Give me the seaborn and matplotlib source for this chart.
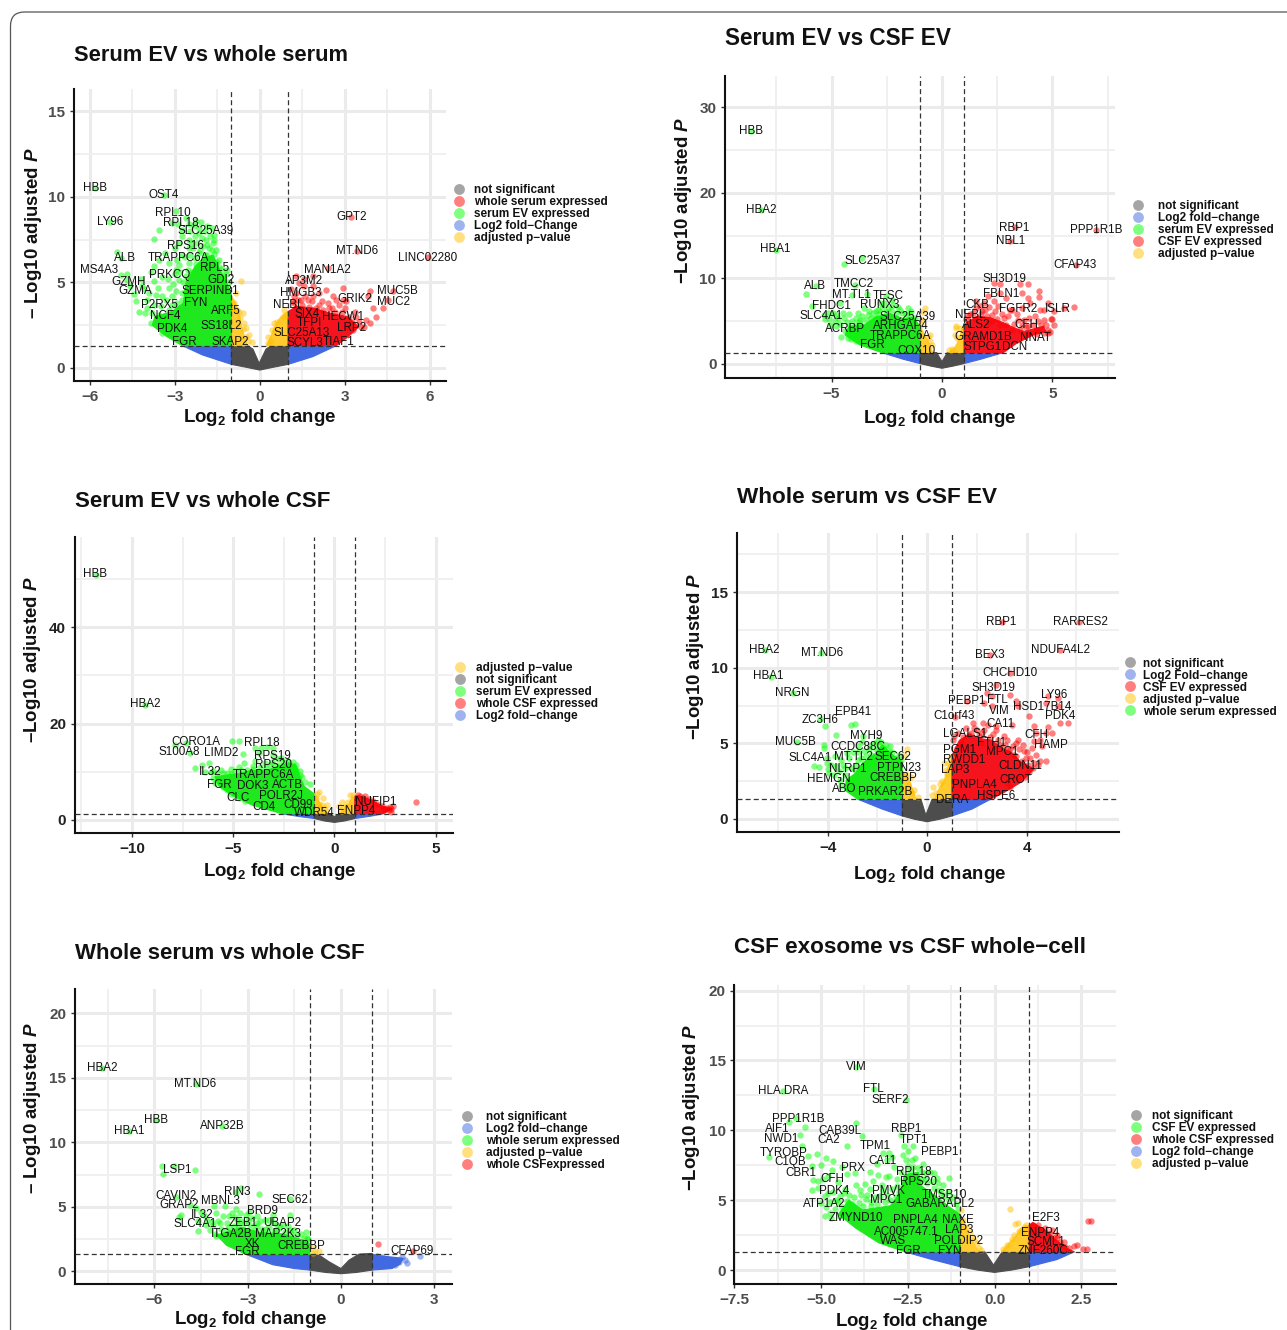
import matplotlib
matplotlib.use("Agg")
import matplotlib.pyplot as plt
import seaborn as sns
from matplotlib.lines import Line2D
from matplotlib.patches import FancyBboxPatch
from matplotlib.transforms import IdentityTransform

sns.set_theme(style="white")
plt.rcParams["font.family"] = ["Liberation Sans", "DejaVu Sans"]
plt.rcParams["mathtext.fontset"] = "custom"
plt.rcParams["mathtext.rm"] = "Liberation Sans:bold"
plt.rcParams["mathtext.bf"] = "Liberation Sans:bold"
plt.rcParams["mathtext.it"] = "Liberation Sans:italic:bold"
plt.rcParams["mathtext.bfit"] = "Liberation Sans:italic:bold"

W, H = 1287, 1330
THRESH = 1.3

# The densest parts of each cloud are read as outlines (*_edge, *_l, *_r, *_grey);
# the thinner parts are individually read points (*_pts, *_band).

# ---------- Panel A: Serum EV vs whole serum ----------
A_green_edge = [(-2.73,1.3),(-3.3,1.85),(-3.8,2.5),(-3.7,3.0),(-3.1,3.3),(-2.7,3.8),(-2.6,5.0),(-2.3,5.9),(-2.0,6.4),(-1.65,6.6),(-1.4,5.7),(-1.15,4.9),(-1,4.3),(-1,1.3)]
A_red_edge = [(1,1.3),(2.7,1.3),(3.1,1.8),(3.5,2.4),(3.1,3.0),(2.5,3.2),(1.9,3.5),(1.3,3.6),(1,3.3)]
A_yellow_l = [(-1,1.3),(-0.45,1.3),(-0.55,1.9),(-0.65,2.5),(-0.72,3.2),(-0.85,3.8),(-1,4.2)]
A_yellow_r = [(1,1.3),(0.25,1.3),(0.4,1.9),(0.52,2.4),(0.7,2.9),(1,3.3)]
A_blue_l = [(-2.73,1.3),(-2.02,0.76),(-1,0.21),(-1,1.3)]
A_blue_r = [(1,1.3),(1,0.21),(1.87,0.66),(2.7,1.3)]
A_grey = [(-1,1.3),(-0.42,1.3),(-0.24,1.1),(-0.02,0.27),(0.22,1.1),(0.4,1.3),(1,1.3),(1,0.21),(0.5,0.05),(0,-0.12),(-0.5,0.05),(-1,0.21)]
A_green_pts = [(-5.82,10.5),(-5.29,8.55),(-3.38,10.13),(-3.56,8.05),(-3.73,7.54),(-2.08,8.54),(-1.85,8.32),(-1.67,8.18),(-1.63,7.79),(-1.61,7.5),(-2.97,9.16),(-2.61,8.77),(-2.32,8.28),(-2.26,8.57),(-2.73,8.09),(-3.09,8.48),(-1.9,7.5),(-2.14,7.89),(-2.38,7.3),(-2.85,7.3),(-1.85,6.62),(-1.61,6.68),(-1.43,6.33),(-2.5,7.01),(-2.73,6.62),(-5.03,6.76),(-4.91,6.43),(-4.91,5.45),(-4.68,5.16),(-3.73,5.06),(-3.73,5.94),(-3.2,4.67),(-4.15,4.77),(-4.38,3.89),(-4.26,3.3),(-3.97,3.5),(-3.68,4.28),(-3.44,4.18),(-3.09,4.18),(-2.91,3.79),(-3.85,2.62),(-3.56,3.1),(-3.26,3.0),(-3.44,2.03),(-2.85,5.16),(-2.73,4.37),(-2.97,5.74),(-3.2,6.13),(-2.5,6.13),(-1.14,5.74),(-1.31,5.45),(-2.91,6.33),(-2.1,6.9),(-1.8,7.0),(-2.3,6.4),(-2.6,5.4)]
A_green_band = [(-4.1,4.6),(-4.0,4.0),(-3.9,4.4),(-3.8,3.2),(-3.75,3.7),(-3.6,4.7),(-3.5,3.6),(-3.45,5.3),(-3.4,2.8),(-3.3,4.0),(-3.25,5.2),(-3.2,3.4),(-3.15,2.5),(-3.1,3.7),(-3.05,4.9),(-3.0,5.5),(-2.95,4.5),(-2.9,3.4),(-2.85,6.0),(-2.8,5.6),(-2.75,4.0),(-2.7,5.0),(-2.65,6.5),(-2.6,4.5),(-2.55,5.7),(-2.5,7.5),(-2.45,6.6),(-2.4,5.6),(-2.35,7.0),(-2.3,7.7),(-2.25,6.1),(-2.2,7.3),(-2.15,6.7),(-2.05,7.6),(-2.0,7.1),(-1.95,6.6),(-1.85,7.2),(-1.75,7.7),(-1.7,6.9),(-1.65,7.3),(-1.55,6.9),(-1.5,6.2),(-1.45,5.9),(-1.35,5.8),(-1.25,5.2),(-1.2,5.5),(-1.1,5.0),(-4.45,4.3),(-4.6,4.8),(-4.7,5.5),(-4.2,5.2),(-4.05,3.2),(-3.85,5.6),(-3.55,6.3),(-3.35,6.7),(-3.0,7.0),(-2.75,7.7),(-2.9,8.4),(-2.45,8.0),(-2.5,8.4),(-2.15,8.2),(-1.95,8.0)]
A_red_pts = [(1.28,5.35),(1.87,5.35),(2.4,5.84),(1.28,4.37),(1.46,3.98),(1.16,3.89),(1.87,4.18),(2.1,4.37),(2.93,4.67),(3.88,4.47),(3.82,4.18),(4.7,4.47),(4.52,3.98),(4.35,3.5),(4.11,3.0),(4.0,3.5),(2.7,3.98),(2.4,3.79),(2.1,3.69),(1.75,3.59),(1.28,3.5),(2.46,3.5),(2.81,3.69),(3.05,3.89),(3.4,3.0),(3.76,2.8),(3.58,2.42),(3.88,2.62),(3.23,8.81),(3.44,6.86),(5.94,6.48),(1.4,4.96),(1.58,4.77),(1.87,4.77),(2.58,4.18),(2.34,4.57)]
A_red_band = [(1.1,4.6),(1.2,3.8),(1.35,4.0),(1.5,3.7),(1.6,4.2),(1.7,4.0),(1.85,3.9),(2.0,3.5),(2.2,3.9),(2.25,3.4),(2.55,3.5),(2.65,3.3),(2.9,3.3),(3.0,3.5),(3.15,3.0),(3.25,2.7),(3.35,3.3),(3.5,2.7),(3.7,2.4),(2.95,4.0),(1.55,5.2),(1.2,4.2),(3.1,2.4),(3.3,2.2)]
A_yellow_pts = [(-0.67,5.06),(-0.84,4.37),(-0.9,3.79),(-0.73,3.3),(-0.55,2.62),(-0.37,1.95),(-0.49,2.32),(-0.28,1.54),(0.81,3.0),(0.45,2.23),(0.28,1.45),(-0.95,3.5),(-0.8,3.4),(-0.7,2.9),(-0.6,2.3),(-0.5,1.8),(-0.4,1.6),(0.3,1.8),(0.5,2.6),(0.6,2.7),(0.85,3.4),(0.9,3.1),(0.4,1.6),(-0.6,3.2)]
A_genes = [("HBB",-5.82,10.5),("LY96",-5.29,8.55),("OST4",-3.38,10.13),("RPL10",-3.06,9.08),("RPL18",-2.78,8.5),("SLC25A39",-1.93,8.03),("RPS16",-2.64,7.15),("TRAPPC6A",-2.88,6.44),("ALB",-4.76,6.44),("MS4A3",-5.68,5.74),("RPL5",-1.61,5.84),("PRKCQ",-3.2,5.45),("GZMH",-4.62,5.0),("GZMA",-4.41,4.47),("GDI2",-1.37,5.12),("SERPINB1",-1.73,4.51),("P2RX5",-3.56,3.69),("FYN",-2.26,3.79),("ARF5",-1.2,3.34),("NCF4",-3.35,3.05),("SS18L2",-1.37,2.48),("PDK4",-3.11,2.25),("FGR",-2.67,1.54),("SKAP2",-1.04,1.54),("GPT2",3.23,8.81),("MT.ND6",3.44,6.86),("LINC02280",5.93,6.44),("MAN1A2",2.4,5.74),("AP3M2",1.58,5.06),("HMGB3",1.46,4.37),("GRIK2",3.35,4.02),("MUC5B",4.86,4.47),("MUC2",4.73,3.83),("NEBL",0.99,3.69),("SIX4",1.69,3.14),("HECW1",2.93,2.97),("TFPI",1.75,2.62),("LRP2",3.23,2.32),("SLC25A13",1.48,2.03),("SCYL3",1.58,1.45),("TIAF1",2.79,1.5)]
A_legend = [("not significant","grey"),("whole serum expressed","red"),("serum EV expressed","green"),("Log2 fold\u2212Change","blue"),("adjusted p\u2212value","yellow")]

# ---------- Panel B: Serum EV vs CSF EV ----------
B_green_edge = [(-2.73,1.33),(-3.71,2.22),(-4.39,3.39),(-4.2,4.4),(-3.5,4.6),(-3.0,5.5),(-2.35,5.9),(-1.75,5.3),(-1.3,5.5),(-1,4.4),(-1,1.33)]
B_red_edge = [(1,1.33),(2.78,1.33),(3.38,2.42),(4.13,3.39),(4.7,3.8),(4.6,4.4),(3.7,3.8),(3.2,4.3),(2.8,4.8),(2.2,5.4),(1.6,5.6),(1.1,4.8),(1,4.4)]
B_yellow_l = [(-1,1.33),(-0.42,1.33),(-0.55,2.2),(-0.7,3),(-1,4.4)]
B_yellow_r = [(1,1.33),(0.3,1.33),(0.6,2),(0.8,3),(0.9,4.2),(1,4.4)]
B_blue_l = [(-2.73,1.33),(-1.75,0.55),(-1,0.05),(-1,1.33)]
B_blue_r = [(1,1.33),(1,0.05),(1.75,0.55),(2.78,1.33)]
B_grey = [(-1,1.33),(-0.24,1.33),(0,0.27),(0.24,1.33),(1,1.33),(1,0.05),(0.5,-0.25),(0,-0.5),(-0.5,-0.25),(-1,0.05)]
B_green_pts = [(-8.63,27.2),(-8.2,18.05),(-7.53,13.37),(-3.62,12.4),(-4.43,11.7),(-5.7,9.08),(-6.15,8.19),(-3.95,9.28),(-4.07,8.1),(-3.4,8.19),(-2.53,7.9),(-5.88,6.74),(-4.6,7.13),(-5.16,5.96),(-5.34,5.77),(-4.8,5.77),(-4.43,5.38),(-5.07,4.6),(-3.89,5.38),(-3.53,6.55),(-3.35,5.77),(-2.9,6.35),(-2.62,7.13),(-2.26,7.52),(-1.54,6.55),(-1.9,6.35),(-2.99,5.38),(-4.25,3.82),(-4.8,4.4),(-4.25,3.04),(-3.71,5.19)]
B_green_band = [(-5.3,5.2),(-5.1,5.2),(-4.95,6.0),(-4.85,5.0),(-4.7,5.4),(-4.6,4.7),(-4.5,6.0),(-4.4,3.9),(-4.3,4.9),(-4.2,5.8),(-4.15,4.3),(-4.05,5.0),(-4.0,3.5),(-3.9,4.5),(-3.8,6.0),(-3.75,4.9),(-3.65,3.8),(-3.6,5.6),(-3.45,5.1),(-3.3,6.2),(-3.2,5.4),(-3.1,6.0),(-3.0,6.2),(-2.85,5.8),(-2.7,6.5),(-2.55,6.1),(-2.45,6.6),(-2.3,6.3),(-2.2,6.9),(-2.1,6.0),(-2.0,6.7),(-1.8,6.0),(-1.65,5.9),(-1.45,5.9),(-1.4,6.2),(-1.2,5.4),(-2.8,7.1),(-2.95,4.8),(-4.55,3.2),(-4.1,2.9),(-3.9,2.7)]
B_red_pts = [(3.3,15.98),(3.08,14.4),(6.97,15.7),(6.06,11.6),(2.35,9.47),(2.62,9.4),(3.53,9.36),(3.89,9.36),(2.62,8.3),(2.08,8.0),(2.9,7.7),(3.89,7.7),(4.4,8.5),(4.4,7.84),(3.62,8.3),(2.35,7.33),(1.54,7.33),(1.9,7.13),(2.53,6.74),(3.17,6.35),(3.98,7.13),(3.62,6.55),(4.8,7.13),(4.6,6.35),(5.97,6.67),(5.52,6.55),(5.07,6.16),(4.6,5.19),(5.07,4.6),(4.8,4.02),(4.34,5.0),(3.89,4.4),(3.44,5.19),(2.8,5.38),(2.26,5.77),(1.81,6.16),(1.54,6.55),(2.62,4.6),(1.18,5.58),(4.8,3.63),(3.53,4.0),(3.17,4.02),(2.08,4.8)]
B_red_band = [(1.1,5.3),(1.25,5.9),(1.4,6.0),(1.5,5.2),(1.7,6.8),(1.75,5.8),(1.95,6.3),(2.05,5.6),(2.15,6.7),(2.25,5.0),(2.4,6.2),(2.5,5.2),(2.7,5.9),(2.9,4.6),(3.0,5.6),(3.1,6.3),(3.25,4.7),(3.4,5.8),(3.6,4.6),(3.7,5.1),(3.8,4.3),(3.95,5.4),(4.1,4.6),(4.2,5.6),(4.3,4.0),(4.5,4.5),(4.6,3.6),(4.7,4.5),(4.9,3.7),(4.95,5.3),(4.45,6.3),(5.0,5.2),(3.85,3.5),(4.25,3.5)]
B_yellow_pts = [(-0.77,6.5),(-0.84,6.1),(-0.92,5.15),(-0.54,3.4),(-0.47,2.2),(0.62,4.17),(0.59,3.4),(0.63,4.4),(-0.95,4.5),(-0.65,3.2),(-0.55,2.7),(0.8,4.2),(0.7,3.0),(0.45,1.8),(0.3,1.6)]
B_genes = [("HBB",-8.63,27.2),("HBA2",-8.2,18.0),("HBA1",-7.53,13.4),("RBP1",3.28,15.9),("PPP1R1B",6.97,15.7),("NBL1",3.09,14.4),("SLC25A37",-3.15,12.05),("CFAP43",6.01,11.6),("SH3D19",2.82,9.94),("TMCC2",-3.98,9.32),("ALB",-5.76,9.12),("FBLN1",2.66,8.23),("MT.TL1",-4.11,8.1),("TESC",-2.41,7.9),("RUNX3",-2.81,6.86),("CKB",1.61,6.86),("FHDC1",-5.0,6.78),("FGFR2",3.46,6.39),("ISLR",5.25,6.47),("NEBL",1.29,5.77),("SLC4A1",-5.47,5.58),("SLC25A39",-1.54,5.5),("ALS2",1.54,4.6),("CFH",3.8,4.52),("ARHGAP4",-1.85,4.44),("ACRBP",-4.4,4.09),("TRAPPC6A",-1.9,3.31),("GRAMD1B",1.85,3.12),("NNAT",4.25,3.04),("FGR",-3.17,2.18),("STPG1",1.86,1.99),("DCN",3.31,1.99),("COX10",-1.14,1.56)]
B_legend = [("not significant","grey"),("Log2 fold\u2212change","blue"),("serum EV expressed","green"),("CSF EV expressed","red"),("adjusted p\u2212value","yellow")]

# ---------- Panel C: Serum EV vs whole CSF ----------
C_green_edge = [(-2.6,1.3),(-4.07,3.1),(-5.0,5.0),(-5.7,7.0),(-5.9,9.0),(-4.8,9.6),(-4.2,10.2),(-3.3,10.4),(-3.0,10.8),(-2.26,11.9),(-1.9,11.4),(-1.7,9.0),(-1.5,7.0),(-1,5.4),(-1,1.3)]
C_red_edge = [(1,1.3),(2.4,1.3),(2.85,2.3),(2.3,3.0),(1.8,4.2),(1.2,5.0),(1,5.0)]
C_yellow_l = [(-1,1.3),(-0.35,1.3),(-0.55,2.3),(-0.75,3.8),(-1,5.7)]
C_yellow_r = [(1,1.3),(0.25,1.3),(0.5,2.2),(0.7,3.2),(0.85,4.7),(1,4.7)]
C_blue_l = [(-2.6,1.3),(-1.8,0.75),(-1,0.3),(-1,1.3)]
C_blue_r = [(1,1.3),(1,0.3),(1.8,0.8),(2.4,1.3)]
C_grey = [(-1,1.3),(-0.3,1.3),(0,0.7),(0.25,1.3),(1,1.3),(1,0.3),(0.5,-0.2),(0,-0.5),(-0.5,-0.2),(-1,0.3)]
C_green_pts = [(-11.78,50.8),(-9.34,23.86),(-5.06,16.46),(-4.71,16.46),(-7.89,15.56),(-7.34,15.9),(-7.11,13.83),(-4.51,13.7),(-4.45,11.9),(-4.71,11.06),(-5.1,10.5),(-6.89,10.8),(-6.56,11.4),(-6.21,11.9),(-5.98,10.2),(-5.49,9.68),(-3.93,15.0),(-3.63,14.87),(-3.34,15.2),(-3.05,14.87),(-3.73,13.83),(-3.05,13.5),(-2.66,12.8),(-4.02,11.2),(-1.88,11.4),(-1.88,10.4),(-1.68,9.34),(-1.23,7.47),(-2.07,12.1),(-3.44,11.76),(-5.78,8.3)]
C_green_band = [(-6.4,9.9),(-6.1,10.0),(-6.0,8.8),(-5.8,9.7),(-5.6,10.3),(-5.3,9.8),(-5.1,9.6),(-4.9,10.2),(-4.6,10.3),(-4.3,10.4),(-4.0,10.6),(-3.7,10.9),(-3.4,10.8),(-3.2,11.4),(-2.9,11.1),(-2.7,11.5),(-2.5,12.1),(-2.3,12.3),(-2.0,10.6),(-1.7,10.2),(-1.6,8.9),(-1.45,7.8),(-5.9,7.7),(-5.5,6.8),(-5.3,6.2),(-5.1,5.4),(-4.7,4.6),(-4.4,3.9),(-3.1,12.0),(-2.8,12.6),(-3.9,12.3),(-4.2,9.5)]
C_red_pts = [(4.03,3.8),(2.67,2.07),(2.75,2.77),(2.42,2.07),(1.5,5.0),(1.17,5.2),(1.25,4.9),(1.4,4.6),(1.7,4.4),(1.9,3.9),(2.1,3.3),(2.35,2.9),(2.6,2.5),(2.8,2.3),(2.9,2.8),(2.8,1.7)]
C_yellow_pts = [(-0.78,5.9),(-0.58,4.5),(-0.37,3.1),(0.78,5.2),(0.37,3.67),(0.2,2.8),(-0.9,4.6),(-0.75,3.4),(-0.6,3.1),(-0.5,2.4),(-0.4,1.9),(0.9,5.1),(0.65,3.8),(0.55,3.0),(0.4,2.4),(0.3,2.0),(-0.85,5.4)]
C_genes = [("HBB",-11.8,51),("HBA2",-9.34,24),("CORO1A",-6.84,16.1),("S100A8",-7.64,14.2),("LIMD2",-5.59,13.83),("RPL18",-3.57,15.9),("RPS19",-3.09,13.35),("RPS20",-2.99,11.4),("IL32",-6.13,9.9),("TRAPPC6A",-3.52,9.4),("FGR",-5.68,7.2),("DOK3",-4.02,7.1),("ACTB",-2.34,7.26),("POLR2J",-2.62,5.05),("CLC",-4.77,4.5),("CD99",-1.82,3.1),("CD4",-3.48,2.63),("WDR54",-1.0,1.38),("ENPP4",1.05,1.94),("NUFIP1",2.03,3.8)]
C_legend = [("adjusted p\u2212value","yellow"),("not significant","grey"),("serum EV expressed","green"),("whole CSF expressed","red"),("Log2 fold\u2212change","blue")]

# ---------- Panel D: Whole serum vs CSF EV ----------
D_green_edge = [(-2.78,1.3),(-3.31,1.92),(-3.25,2.58),(-2.9,3.0),(-2.6,3.7),(-2.1,4.3),(-1.8,4.9),(-1.45,4.3),(-1,3.8),(-1,1.3)]
D_red_edge = [(1,1.3),(2.55,1.3),(3.09,1.75),(3.75,2.4),(4.3,3.3),(3.75,3.8),(3.4,4.4),(3.0,4.7),(2.6,5.2),(2.2,5.3),(1.7,5.6),(1.3,5.2),(1,4.2)]
D_yellow_l = [(-1,1.3),(-0.45,1.3),(-0.55,1.8),(-0.7,2.5),(-1,3.2)]
D_yellow_r = [(1,1.3),(0.3,1.3),(0.45,1.9),(0.7,2.6),(0.85,3.5),(1,4.0)]
D_blue_l = [(-2.78,1.3),(-1.8,0.65),(-1,0.2),(-1,1.3)]
D_blue_r = [(1,1.3),(1,0.2),(1.8,0.65),(2.55,1.3)]
D_grey = [(-1,1.3),(-0.25,1.3),(-0.05,0.25),(0.2,1.3),(1,1.3),(1,0.2),(0.5,-0.02),(0,-0.18),(-0.5,-0.02),(-1,0.2)]
D_green_pts = [(-6.52,11.19),(-4.27,11.0),(-6.29,9.38),(-5.41,8.33),(-4.11,6.12),(-4.3,6.6),(-3.08,6.23),(-2.92,6.28),(-3.68,5.53),(-5.25,5.07),(-4.16,4.91),(-4.16,4.69),(-2.57,5.46),(-1.97,5.24),(-2.76,4.8),(-1.81,4.58),(-4.54,3.48),(-4.35,3.44),(-4.03,3.7),(-3.71,4.14),(-4.03,4.03),(-3.4,3.59),(-3.56,3.15),(-2.92,3.26),(-2.44,4.14),(-2.29,4.8),(-3.24,4.36),(-2.92,2.71),(-3.95,3.04),(-3.16,2.49),(-1.49,4.8),(-1.57,4.36),(-2.76,3.92),(-2.2,3.7)]
D_green_band = [(-4.0,3.3),(-3.85,3.6),(-3.75,2.9),(-3.65,3.5),(-3.5,2.6),(-3.45,3.9),(-3.3,3.4),(-3.3,2.9),(-3.15,4.0),(-3.05,3.4),(-3.0,4.4),(-2.85,3.6),(-2.8,4.4),(-2.7,3.3),(-2.65,4.0),(-2.55,4.5),(-2.45,3.5),(-2.35,4.6),(-2.25,4.2),(-2.15,5.0),(-2.05,4.6),(-1.95,4.9),(-1.85,5.1),(-1.75,4.7),(-1.65,4.9),(-1.55,4.5),(-1.4,4.4),(-1.3,4.0),(-1.15,4.2),(-1.05,3.9),(-3.45,2.2),(-3.2,2.0),(-2.6,5.1)]
D_red_pts = [(3.03,13.0),(6.13,13.0),(5.33,11.19),(2.52,10.86),(3.35,9.65),(2.41,8.33),(2.79,8.88),(3.35,8.2),(2.63,8.1),(2.27,7.67),(3.56,7.78),(3.67,7.44),(1.6,7.78),(2.63,7.44),(4.86,8.1),(5.25,8.0),(4.78,7.67),(5.25,7.44),(4.11,6.78),(5.33,6.34),(5.65,6.34),(4.86,6.08),(4.3,6.17),(2.24,6.34),(1.84,6.34),(2.79,6.12),(3.43,6.23),(1.13,6.74),(1.68,5.57),(2.0,5.9),(2.76,5.86),(3.11,5.46),(3.67,5.24),(4.38,5.68),(4.78,5.68),(5.02,5.68),(4.3,5.13),(4.22,4.69),(4.62,4.8),(4.38,4.25),(4.78,3.81),(4.3,3.7),(3.59,5.02),(3.9,4.47),(3.98,4.03),(3.59,4.14),(3.27,4.58),(1.37,5.02),(1.05,5.24),(2.16,5.02)]
D_red_band = [(1.1,5.5),(1.2,4.7),(1.25,5.7),(1.45,5.4),(1.55,6.0),(1.75,5.7),(1.9,6.0),(2.1,5.5),(2.2,5.7),(2.3,5.9),(2.45,6.2),(2.55,5.4),(2.65,5.6),(2.85,5.2),(2.95,4.9),(3.15,4.9),(3.2,5.2),(3.35,4.6),(3.45,4.8),(3.5,4.2),(3.7,4.6),(3.8,3.8),(3.85,4.9),(4.0,4.4),(4.05,3.6),(4.15,4.0),(4.25,3.4),(4.45,3.6),(4.55,3.8),(4.1,3.1),(3.95,2.8),(3.65,2.7),(3.35,2.1),(3.2,2.4),(4.55,5.2)]
D_yellow_pts = [(-0.82,4.6),(-0.91,4.23),(-0.65,2.8),(-0.51,1.92),(-0.38,1.48),(0.69,3.68),(0.75,3.24),(0.25,2.14),(0.2,1.6),(-0.95,2.9),(-0.75,2.3),(-0.6,1.7),(-0.85,3.0),(0.85,3.7),(0.95,4.1),(0.6,2.5),(0.5,2.3),(0.35,1.7),(0.8,3.0)]
D_genes = [("RBP1",3.0,13),("RARRES2",6.16,13),("NDUFA4L2",5.37,11.19),("HBA2",-6.57,11.19),("MT.ND6",-4.24,11),("HBA1",-6.4,9.43),("NRGN",-5.41,8.3),("BEX3",2.52,10.84),("CHCHD10",3.35,9.63),("SH3D19",2.67,8.63),("LY96",5.13,8.22),("PEBP1",1.6,7.78),("FTL",2.84,7.89),("HSD17B14",4.62,7.4),("VIM",2.92,7.16),("PDK4",5.37,6.81),("C1orf43",1.08,6.78),("EPB41",-2.97,7.09),("ZC3H6",-4.3,6.52),("CA11",2.95,6.28),("LGALS1",1.52,5.62),("CFH",4.38,5.55),("MYH9",-2.44,5.46),("MUC5B",-5.3,5.11),("FTH1",2.6,5.02),("HAMP",4.98,4.91),("CCDC88C",-2.79,4.76),("PGM1",1.29,4.54),("MPC1",3.03,4.41),("SLC4A1",-4.7,4.05),("MT.TL2",-2.97,4.1),("SEC62",-1.38,4.12),("RWDD1",1.49,3.92),("CLDN11",3.75,3.48),("PTPN23",-1.14,3.37),("NLRP1",-3.19,3.33),("LAP3",1.13,3.22),("HEMGN",-3.95,2.64),("CREBBP",-1.38,2.73),("CROT",3.56,2.6),("PNPLA4",1.89,2.27),("ABO",-3.32,2.0),("PRKAR2B",-1.68,1.81),("HSPE6",2.76,1.5),("DERA",1.02,1.28)]
D_legend = [("not significant","grey"),("Log2 Fold\u2212change","blue"),("CSF EV expressed","red"),("adjusted p\u2212value","yellow"),("whole serum expressed","green")]

# ---------- Panel E: Whole serum vs whole CSF ----------
E_green_edge = [(-3.05,1.3),(-3.68,2.0),(-4.0,2.8),(-3.6,3.1),(-3.2,3.4),(-2.6,3.0),(-1.9,2.9),(-1.2,2.4),(-1,2.1),(-1,1.3)]
E_blue_l = [(-3.05,1.3),(-2.2,0.5),(-1.5,0.2),(-1,0.08),(-1,1.3)]
E_blue_r = [(1,1.33),(1,0.08),(1.64,0.2),(1.9,0.55),(2.0,1.0),(1.6,1.1),(1.2,1.2)]
E_grey = [(-1,1.3),(-0.7,1.24),(-0.38,0.72),(0,0.2),(0.26,0.85),(0.58,1.32),(1,1.37),(1,0.08),(0.5,-0.1),(0,-0.2),(-0.5,-0.1),(-1,0.08)]
E_green_pts = [(-7.69,15.8),(-4.65,14.5),(-5.94,11.73),(-3.83,11.3),(-6.81,10.88),(-5.75,8.19),(-5.37,8.19),(-4.7,7.88),(-5.73,7.55),(-3.23,6.49),(-3.38,6.18),(-2.64,6.02),(-1.65,5.63),(-5.29,5.79),(-4.87,5.14),(-4.65,4.88),(-4.08,5.06),(-3.73,5.06),(-3.38,4.8),(-5.16,4.37),(-5.2,4.19),(-4.02,4.5),(-3.07,4.37),(-2.69,4.24),(-1.65,4.32),(-2.18,4.37),(-2.31,3.98),(-4.4,4.37),(-4.14,3.85),(-4.59,3.13),(-3.89,3.72),(-3.35,3.98),(-3.12,3.72),(-2.69,3.72),(-1.14,3.0),(-2.05,3.2),(-1.65,3.2),(-4.33,3.6),(-3.59,4.24),(-4.02,2.7),(-3.7,3.2)]
E_green_band = [(-4.2,3.2),(-4.1,3.6),(-4.05,2.9),(-3.95,3.9),(-3.85,3.3),(-3.8,4.3),(-3.75,2.8),(-3.65,3.7),(-3.6,3.4),(-3.5,4.5),(-3.45,3.5),(-3.4,4.2),(-3.3,3.6),(-3.25,4.5),(-3.2,3.9),(-3.15,3.3),(-3.0,3.9),(-2.95,4.6),(-2.9,3.5),(-2.85,4.1),(-2.75,3.2),(-2.7,3.5),(-2.6,3.9),(-2.55,3.3),(-2.45,4.0),(-2.4,3.3),(-2.3,3.4),(-2.2,3.8),(-2.15,3.1),(-2.05,3.6),(-1.95,3.4),(-1.85,3.6),(-1.8,3.0),(-1.7,3.5),(-1.6,2.9),(-1.5,3.2),(-1.4,2.8),(-1.3,2.9),(-1.2,2.6),(-1.1,2.6),(-1.05,2.5),(-4.3,4.0),(-4.5,4.6),(-4.6,3.9)]
E_red_pts = [(1.18,2.12),(2.32,1.58)]
E_yellow_pts = [(-0.85,1.6),(-0.72,1.6),(-0.94,1.9),(-0.9,1.4)]
E_blue_pts = [(1.32,1.11),(1.48,0.85),(1.85,0.72),(2.07,0.85),(2.12,0.6),(1.96,1.11),(2.55,1.19),(1.75,0.47),(1.64,0.85),(1.16,1.16)]
E_genes = [("HBA2",-7.69,15.8),("MT.ND6",-4.69,14.5),("HBB",-5.94,11.73),("ANP32B",-3.83,11.3),("HBA1",-6.81,10.88),("LSP1",-5.25,7.86),("RIN3",-3.32,6.18),("CAVIN2",-5.32,5.81),("SEC62",-1.65,5.53),("MBNL3",-3.87,5.48),("GRAP2",-5.22,5.12),("BRD9",-2.52,4.63),("IL32",-4.47,4.39),("SLC4A1",-4.68,3.62),("ZEB1",-3.16,3.72),("UBAP2",-1.88,3.77),("ITGA2B",-3.53,2.89),("MAP2K3",-2.03,2.89),("XK",-2.84,2.12),("CREBBP",-1.29,1.96),("FGR",-3.0,1.47),("CFAP69",2.28,1.58)]
E_legend = [("not significant","grey"),("Log2 fold\u2212change","blue"),("whole serum expressed","green"),("adjusted p\u2212value","yellow"),("whole CSFexpressed","red")]

# ---------- Panel F: CSF exosome vs CSF whole-cell ----------
F_green_edge = [(-2.58,1.3),(-3.34,1.95),(-4.0,3.0),(-4.5,4.0),(-4.2,5.0),(-3.8,4.3),(-3.0,4.6),(-2.7,5.6),(-2.6,6.8),(-2.2,7.0),(-2.1,6.0),(-1.7,5.3),(-1.3,4.5),(-1,4.0),(-1,1.3)]
F_red_edge = [(1,1.3),(2.3,1.3),(2.05,1.6),(1.75,2.2),(1.5,2.8),(1.1,3.4),(1,3.2)]
F_yellow_l = [(-1,1.3),(-0.45,1.3),(-0.55,1.7),(-0.75,2.5),(-0.85,3.3),(-1,4.0)]
F_yellow_r = [(1,1.3),(0.2,1.3),(0.4,1.9),(0.6,2.4),(0.75,3.0),(1,3.2)]
F_blue_l = [(-2.58,1.3),(-1.8,0.75),(-1,0.24),(-1,1.3)]
F_blue_r = [(1,1.3),(1,0.24),(1.8,0.75),(2.3,1.3)]
F_grey = [(-1,1.3),(-0.28,1.3),(-0.03,0.35),(0.22,1.3),(1,1.3),(1,0.24),(0.5,0.0),(0,-0.17),(-0.5,0.0),(-1,0.24)]
F_green_pts = [(-3.99,14.5),(-3.48,12.97),(-6.1,12.8),(-2.56,12.2),(-5.71,10.9),(-5.93,10.58),(-5.45,10.23),(-3.98,10.49),(-5.62,9.63),(-3.81,9.58),(-5.54,8.87),(-4.24,8.91),(-2.71,9.7),(-2.6,8.87),(-2.34,8.87),(-3.22,8.39),(-3.05,8.39),(-5.12,8.27),(-5.37,8.15),(-4.85,8.03),(-6.5,8.1),(-4.66,7.79),(-5.0,7.5),(-5.25,7.43),(-4.69,7.19),(-4.01,6.95),(-4.24,6.9),(-3.36,6.83),(-3.13,6.67),(-5.23,6.43),(-5.08,6.36),(-5.25,5.76),(-1.3,6.6),(-3.73,6.19),(-3.88,5.76),(-2.54,7.91),(-2.37,7.91),(-2.49,7.43),(-1.98,6.95),(-1.75,6.95),(-2.09,6.48),(-1.64,6.24),(-1.53,5.52),(-3.67,5.4),(-4.35,5.52),(-4.58,5.04),(-4.24,4.92),(-3.56,4.56),(-4.8,5.52),(-2.82,6.0),(-3.22,5.76),(-4.75,4.09),(-4.46,3.85)]
F_green_band = [(-5.0,4.8),(-4.9,5.3),(-4.85,4.5),(-4.75,4.9),(-4.65,5.6),(-4.6,4.4),(-4.5,4.9),(-4.45,5.3),(-4.4,4.5),(-4.3,5.8),(-4.25,4.4),(-4.2,5.4),(-4.1,4.7),(-4.05,5.2),(-4.0,6.1),(-3.9,4.8),(-3.85,5.4),(-3.8,4.6),(-3.7,5.1),(-3.6,5.8),(-3.55,4.9),(-3.5,6.4),(-3.45,5.2),(-3.4,4.7),(-3.3,5.3),(-3.25,6.1),(-3.15,4.9),(-3.1,5.4),(-3.05,6.7),(-3.0,5.0),(-2.95,5.8),(-2.9,7.4),(-2.85,5.2),(-2.8,6.5),(-2.75,5.6),(-2.7,7.0),(-2.65,8.2),(-2.6,6.0),(-2.5,8.5),(-2.45,7.0),(-2.4,6.3),(-2.35,7.4),(-2.3,8.0),(-2.25,6.7),(-2.2,7.3),(-2.15,6.3),(-2.1,7.0),(-2.05,7.6),(-2.0,6.5),(-1.95,6.2),(-1.85,7.0),(-1.8,6.4),(-1.75,5.9),(-1.65,6.6),(-1.6,5.7),(-1.5,6.1),(-1.45,5.3),(-1.35,5.6),(-1.3,5.0),(-1.2,5.2),(-1.1,4.7),(-1.05,4.4),(-4.9,3.9),(-4.7,3.7),(-5.1,5.9),(-4.95,6.5),(-4.5,6.3),(-4.8,6.7),(-4.4,7.4),(-3.6,7.0),(-3.4,7.6),(-3.1,7.9),(-2.95,8.1)]
F_red_pts = [(2.69,3.49),(2.28,1.72),(2.55,1.5),(2.02,1.67),(1.79,2.27),(1.5,2.63),(1.12,3.23),(2.79,3.54),(2.37,1.77),(2.66,1.53),(1.1,2.9),(1.25,3.2),(1.35,2.9),(1.45,3.0),(1.6,2.6),(1.65,2.9),(1.8,2.5),(1.9,2.0),(2.0,2.0),(2.15,1.6),(1.7,2.3)]
F_yellow_pts = [(-0.97,4.3),(-0.78,3.1),(-0.59,2.15),(-0.45,1.55),(0.44,4.37),(0.69,3.35),(0.55,2.5),(0.84,3.1),(-0.9,3.6),(-0.7,2.7),(-0.5,1.9),(-0.65,2.3),(-0.4,1.45),(0.8,2.7),(0.7,2.8),(0.5,2.2),(0.35,1.8),(0.25,1.5),(0.9,3.2),(0.6,3.3)]
F_genes = [("VIM",-3.99,14.5),("HLA.DRA",-6.1,12.8),("FTL",-3.48,12.97),("SERF2",-3.02,12.2),("PPP1R1B",-5.65,10.82),("AIF1",-6.27,10.06),("RBP1",-2.54,10.06),("CAB39L",-4.46,9.92),("NWD1",-6.16,9.41),("CA2",-4.78,9.3),("TPT1",-2.32,9.3),("TPM1",-3.45,8.87),("TYROBP",-6.07,8.39),("PEBP1",-1.58,8.46),("C1QB",-5.88,7.72),("CA11",-3.22,7.79),("PRX",-4.07,7.29),("RPL18",-2.34,7.03),("CBR1",-5.58,6.98),("CFH",-4.68,6.55),("RPS20",-2.2,6.33),("PDK4",-4.62,5.69),("PMVK",-3.05,5.64),("TMSB10",-1.43,5.4),("MPC1",-3.13,5.0),("GABARAPL2",-1.57,4.75),("ATP1A2",-4.9,4.7),("ZMYND10",-4.0,3.73),("PNPLA4",-2.29,3.56),("NAXE",-1.06,3.56),("E2F3",1.49,3.73),("LAP3",-1.02,2.84),("AC005747.1",-2.54,2.75),("ENPP4",1.3,2.65),("WAS",-2.94,2.05),("POLDIP2",-1.05,2.05),("SCML1",1.47,1.98),("FGR",-2.49,1.36),("FYN",-1.3,1.34),("ZNF260C",1.39,1.34)]
F_legend = [("not significant","grey"),("CSF EV expressed","green"),("whole CSF expressed","red"),("Log2 fold\u2212change","blue"),("adjusted p\u2212value","yellow")]

POINT = {"grey": "#4D4D4D", "red": "#FF0000", "green": "#00FF00", "blue": "#4169E1", "yellow": "#FFC000"}
CLOUD = {"grey": "#4D4D4D", "red": "#F5141E", "green": "#1FE81F", "blue": "#4169E1", "yellow": "#FFCB2E"}

PANELS = [
    dict(title="Serum EV vs whole serum", tsize=15.75, ylab="\u2013 Log10 adjusted ", rect=(73.5, 446, 89, 381), xlim=(-6.58, 6.58), ylim=(-0.76, 16.3),
         xt=[-6,-3,0,3,6], xm=[-4.5,-1.5,1.5,4.5], yt=[0,5,10,15], ym=[2.5,7.5,12.5], title_xy=(74, 61), xl_xy=(259.5, 422), yl_xy=(34, 233),
         leg=(453, 184.5, 15), tc="#4D4D4D",
         clouds=[("blue",A_blue_l),("blue",A_blue_r),("grey",A_grey),("yellow",A_yellow_l),("yellow",A_yellow_r),("green",A_green_edge),("red",A_red_edge)],
         pts=[("yellow",A_yellow_pts),("green",A_green_band),("green",A_green_pts),("red",A_red_band),("red",A_red_pts)], genes=A_genes, legend=A_legend),
    dict(title="Serum EV vs CSF EV", tsize=16.3, ylab="\u2212Log10 adjusted ", rect=(725, 1115, 75.7, 378), xlim=(-9.82, 7.83), ylim=(-1.64, 33.7),
         xt=[-5,0,5], xm=[-7.5,-2.5,2.5,7.5], yt=[0,10,20,30], ym=[5,15,25], title_xy=(725, 45), xl_xy=(940, 423), yl_xy=(683, 200),
         leg=(1132, 200, 20), tc="#4D4D4D",
         clouds=[("blue",B_blue_l),("blue",B_blue_r),("grey",B_grey),("yellow",B_yellow_l),("yellow",B_yellow_r),("green",B_green_edge),("red",B_red_edge)],
         pts=[("yellow",B_yellow_pts),("green",B_green_band),("green",B_green_pts),("red",B_red_band),("red",B_red_pts)], genes=B_genes, legend=B_legend),
    dict(title="Serum EV vs whole CSF", tsize=16.0, ylab="\u2013Log10 adjusted ", rect=(74.8, 453, 537, 833), xlim=(-12.82, 5.85), ylim=(-2.7, 58.7),
         xt=[-10,-5,0,5], xm=[-12.5,-7.5,-2.5,2.5], yt=[0,20,40], ym=[10,30,50], title_xy=(75, 507), xl_xy=(279.5, 876), yl_xy=(33, 660),
         leg=(454, 662, 16), tc="#222222",
         clouds=[("blue",C_blue_l),("blue",C_blue_r),("grey",C_grey),("yellow",C_yellow_l),("yellow",C_yellow_r),("green",C_green_edge),("red",C_red_edge)],
         pts=[("yellow",C_yellow_pts),("green",C_green_band),("green",C_green_pts),("red",C_red_pts)], genes=C_genes, legend=C_legend),
    dict(title="Whole serum vs CSF EV", tsize=16.2, ylab="\u2212Log10 adjusted ", rect=(736.7, 1119, 533, 832), xlim=(-7.66, 7.72), ylim=(-0.86, 18.9),
         xt=[-4,0,4], xm=[-6,-2,2,6], yt=[0,5,10,15], ym=[2.5,7.5,12.5,17.5], title_xy=(737, 503), xl_xy=(930, 879), yl_xy=(695, 656),
         leg=(1124, 657.5, 13), tc="#222222",
         clouds=[("blue",D_blue_l),("blue",D_blue_r),("grey",D_grey),("yellow",D_yellow_l),("yellow",D_yellow_r),("green",D_green_edge),("red",D_red_edge)],
         pts=[("yellow",D_yellow_pts),("green",D_green_band),("green",D_green_pts),("red",D_red_band),("red",D_red_pts)], genes=D_genes, legend=D_legend),
    dict(title="Whole serum vs whole CSF", tsize=16.05, ylab="\u2013 Log10 adjusted ", rect=(74.8, 452, 989, 1284), xlim=(-8.56, 3.57), ylim=(-1.0, 21.9),
         xt=[-6,-3,0,3], xm=[-7.5,-4.5,-1.5,1.5], yt=[0,5,10,15,20], ym=[2.5,7.5,12.5,17.5], title_xy=(75, 959), xl_xy=(251, 1324), yl_xy=(33, 1108),
         leg=(461, 1111, 19), tc="#4D4D4D",
         clouds=[("blue",E_blue_l),("blue",E_blue_r),("grey",E_grey),("green",E_green_edge)],
         pts=[("blue",E_blue_pts),("yellow",E_yellow_pts),("green",E_green_band),("green",E_green_pts),("red",E_red_pts)], genes=E_genes, legend=E_legend),
    dict(title="CSF exosome vs CSF whole\u2212cell", tsize=16.2, ylab="\u2212Log10 adjusted ", rect=(734.3, 1116, 985, 1284), xlim=(-7.5, 3.5), ylim=(-1.0, 20.4),
         xt=[-7.5,-5,-2.5,0,2.5], xm=[-6.25,-3.75,-1.25,1.25], yt=[0,5,10,15,20], ym=[2.5,7.5,12.5,17.5], title_xy=(734, 953), xl_xy=(912, 1326), yl_xy=(692, 1107),
         leg=(1130, 1110.5, 16), tc="#4D4D4D",
         clouds=[("blue",F_blue_l),("blue",F_blue_r),("grey",F_grey),("yellow",F_yellow_l),("yellow",F_yellow_r),("green",F_green_edge),("red",F_red_edge)],
         pts=[("yellow",F_yellow_pts),("green",F_green_band),("green",F_green_pts),("red",F_red_pts)], genes=F_genes, legend=F_legend),
]

fig = plt.figure(figsize=(W / 100, H / 100), dpi=100, facecolor="white")
fig.add_artist(FancyBboxPatch((10.5, -60), W + 60, H - 12 + 60, boxstyle="round,pad=0,rounding_size=14",
                              transform=IdentityTransform(), fc="none", ec="#555555", lw=0.9))

for p in PANELS:
    L, R, T, B = p["rect"]
    ax = fig.add_axes([L / W, 1 - B / H, (R - L) / W, (B - T) / H])
    ax.set_facecolor("none")
    ax.set_axisbelow(True)
    for name, edge in p["clouds"]:
        ax.fill([q[0] for q in edge], [q[1] for q in edge], color=CLOUD[name], lw=0.8, zorder=2)
    for name, rows in p["pts"]:
        sns.scatterplot(x=[q[0] for q in rows], y=[q[1] for q in rows], color=POINT[name], alpha=0.5,
                        s=21, linewidth=0, ax=ax, zorder=3)
    ax.axvline(-1, color="#333333", lw=0.9, ls=(0, (4, 2.5)), zorder=4)
    ax.axvline(1, color="#333333", lw=0.9, ls=(0, (4, 2.5)), zorder=4)
    ax.axhline(THRESH, color="#333333", lw=0.9, ls=(0, (4, 2.5)), zorder=4)
    for gene, gx, gy in p["genes"]:
        ax.text(gx, gy, gene, fontsize=8.4, color="#111111", ha="center", va="center", zorder=5)
    ax.set_xlim(*p["xlim"])
    ax.set_ylim(*p["ylim"])
    ax.set_xticks(p["xt"])
    ax.set_yticks(p["yt"])
    ax.set_xticks(p["xm"], minor=True)
    ax.set_yticks(p["ym"], minor=True)
    ax.grid(which="major", color="#EBEBEB", lw=2.2)
    ax.grid(which="minor", color="#EFEFEF", lw=1.3)
    ax.tick_params(which="minor", length=0)
    ax.tick_params(which="major", length=3.2, width=1.0, color="#333333", labelcolor=p["tc"],
                   labelsize=11, left=True, bottom=True, pad=3)
    for lab in ax.get_xticklabels() + ax.get_yticklabels():
        lab.set_fontweight("bold")
    for side in ("top", "right"):
        ax.spines[side].set_visible(False)
    for side in ("left", "bottom"):
        ax.spines[side].set_color("#111111")
        ax.spines[side].set_linewidth(1.5)
    ax.set_xlabel(r"Log$\mathbf{_2}$ fold change", fontsize=13.4, fontweight="bold", color="#111111")
    ax.set_ylabel(p["ylab"] + r"$\mathbfit{P}$", fontsize=13.4, fontweight="bold", color="#111111")
    ax.xaxis.set_label_coords(p["xl_xy"][0] / W, 1 - p["xl_xy"][1] / H, transform=fig.transFigure)
    ax.xaxis.label.set_va("baseline")
    ax.yaxis.set_label_coords(p["yl_xy"][0] / W, 1 - p["yl_xy"][1] / H, transform=fig.transFigure)
    ax.yaxis.label.set_va("center")
    ax.set_title(p["title"], loc="left", fontsize=p["tsize"], fontweight="bold", color="#111111",
                 x=(p["title_xy"][0] - L) / (R - L), y=(B - p["title_xy"][1]) / (B - T), pad=0)
    handles = [Line2D([], [], ls="", marker="o", ms=7.8, mew=0, color=POINT[c], alpha=0.5) for _, c in p["legend"]]
    lx, ly, gap = p["leg"]
    ax.legend(handles, [t for t, _ in p["legend"]], loc="upper left", bbox_to_anchor=(lx / W, 1 - ly / H),
              bbox_transform=fig.transFigure, frameon=False, borderpad=0, borderaxespad=0,
              handlelength=1.0, handletextpad=(gap - 5.9) / 11.8, labelspacing=0.0,
              prop={"size": 8.5, "weight": "bold"}, labelcolor="#111111")

fig.savefig("out.png", dpi=100, facecolor="white")
